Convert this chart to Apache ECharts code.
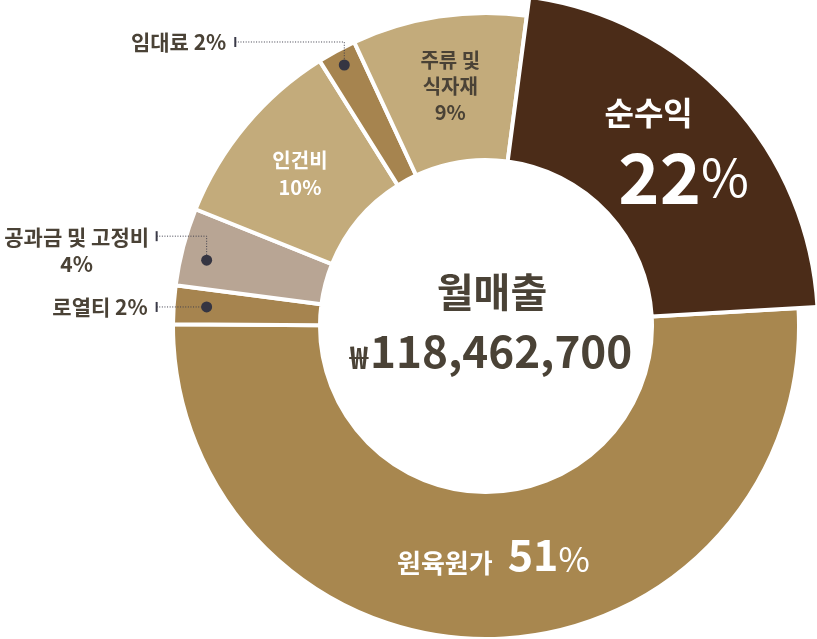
<!DOCTYPE html>
<html><head><meta charset="utf-8">
<script src="https://cdn.jsdelivr.net/npm/echarts@6/dist/echarts.min.js"></script>
<style>html,body{margin:0;padding:0;background:#fff}#c{width:817px;height:639px}</style>
</head><body><div id="c"></div>
<script>
// ---- data ----
const categories = ['순수익', '원육원가', '로열티', '공과금 및 고정비', '인건비', '임대료', '주류 및 식자재'];
const shares = [22, 51, 2, 4, 10, 2, 9];
const centerTitle = '월매출';
const totalSales = 118462700;

// ---- styles ----
const FONT = '"Noto Sans CJK KR", "Noto Sans", sans-serif';
const DARK = '#4a4236';
const colors = ['#4b2c18', '#a8874f', '#a6844f', '#b8a594', '#c3ab7b', '#a6844f', '#c3ab7b'];
const CX = 486, CY = 326, R0 = 166, R1 = 313, R2 = 332;
const START_ANGLE = 82.5;
const BORDER = 4;

const chart = echarts.init(document.getElementById('c'), null, {renderer: 'canvas'});
const total = shares.reduce((a, b) => a + b, 0);
const pctText = i => Math.round(shares[i] / total * 100);

function sliceAngle(i, frac) {
  let cum = 0;
  for (let k = 0; k < i; k++) cum += shares[k];
  return (90 - START_ANGLE) + (cum + shares[i] * frac) / total * 360;
}
function polar(deg, r) {
  const a = deg * Math.PI / 180;
  return [CX + r * Math.sin(a), CY - r * Math.cos(a)];
}

// inside label definitions (library positions them)
const insideLabels = {
  '원육원가': {
    formatter: p => '{n|' + p.name + '}{v|' + pctText(p.dataIndex) + '}{p|%}',
    offset: [1, -16],
    rich: {
      n: {fontSize: 26, fontWeight: 'bold', color: '#fff', fontFamily: FONT, padding: [0, 15, 0, 0], verticalAlign: 'bottom', lineHeight: 44},
      v: {fontSize: 43, fontWeight: 'bold', color: '#fff', fontFamily: FONT, verticalAlign: 'bottom', lineHeight: 48},
      p: {fontSize: 34, fontWeight: 'normal', color: '#fff', fontFamily: FONT, verticalAlign: 'bottom', lineHeight: 44}
    }
  },
  '인건비': {
    formatter: p => p.name + '\n' + pctText(p.dataIndex) + '%',
    offset: [0, 3],
    color: '#fff', fontSize: 20, fontWeight: 'bold', lineHeight: 27
  },
  '주류 및 식자재': {
    formatter: p => '주류 및\n식자재\n' + pctText(p.dataIndex) + '%',
    offset: [1, 0],
    color: DARK, fontSize: 20, fontWeight: 'bold', lineHeight: 26
  },
  '순수익': {
    formatter: p => '{n|' + p.name + '}\n{v|' + pctText(p.dataIndex) + '}{p|%}',
    offset: [-22, 3],
    rich: {
      n: {fontSize: 32, fontWeight: 'bold', color: '#fff', fontFamily: FONT, lineHeight: 40},
      v: {fontSize: 70, fontWeight: 'bold', color: '#fff', fontFamily: FONT, lineHeight: 90, padding: [0, 0, 0, 70]},
      p: {fontSize: 52, fontWeight: 'normal', color: '#fff', fontFamily: FONT, lineHeight: 90}
    }
  }
};

function makeLabel(name) {
  const d = insideLabels[name];
  if (!d) return {show: false};
  return Object.assign({show: true, position: 'inside', fontFamily: FONT}, d);
}

const ringData = categories.map((name, i) => {
  const isProfit = i === 0;
  return {
    name, value: shares[i],
    itemStyle: isProfit ? {color: 'transparent', borderWidth: 0} : {color: colors[i], borderColor: '#fff', borderWidth: BORDER},
    label: isProfit ? {show: false} : makeLabel(name)
  };
});
const profitData = categories.map((name, i) => {
  const isProfit = i === 0;
  return {
    name, value: shares[i],
    itemStyle: isProfit ? {color: colors[i], borderColor: '#fff', borderWidth: BORDER} : {color: 'transparent', borderWidth: 0},
    label: isProfit ? makeLabel(name) : {show: false}
  };
});

// callouts for thin slices
const callouts = [
  {name: '임대료', frac: 0.5, r: 297, rise: 23, run: 109, lines: n => n + ' ' + pctText(categories.indexOf(n)) + '%', align: 'right', gap: 9},
  {name: '공과금 및 고정비', frac: 0.4, r: 287, rise: 24, run: 50, lines: n => n + '\n' + pctText(categories.indexOf(n)) + '%', align: 'center', gap: 80},
  {name: '로열티', frac: 0.5, r: 280, rise: 0, run: 50, lines: n => n + ' ' + pctText(categories.indexOf(n)) + '%', align: 'right', gap: 9}
];
const graphics = [];
callouts.forEach(c => {
  const i = categories.indexOf(c.name);
  const [dx, dy] = polar(sliceAngle(i, c.frac), c.r);
  const ly = dy - c.rise;
  const tx = dx - c.run;
  graphics.push({type: 'polyline', z: 100, shape: {points: [[tx, ly], [dx, ly], [dx, dy]]},
    style: {stroke: '#3f3f4c', lineWidth: 1, lineDash: [1, 1.6], fill: null}});
  graphics.push({type: 'rect', z: 101, shape: {x: tx - 1, y: ly - 5, width: 2, height: 10}, style: {fill: '#3a3a48'}});
  graphics.push({type: 'circle', z: 101, shape: {cx: dx, cy: dy, r: 5.5}, style: {fill: '#353542'}});
  graphics.push({type: 'text', z: 101, x: tx - c.gap, y: ly,
    style: {text: c.lines(c.name), fill: DARK, font: 'bold 21px ' + FONT, align: c.align, textAlign: c.align,
      verticalAlign: 'top', textVerticalAlign: 'top', lineHeight: 27, padding: [-13, 0, 0, 0]}});
});
// center title
graphics.push({type: 'text', z: 101, x: CX + 6, y: 292,
  style: {text: centerTitle, fill: DARK, font: 'bold 40px ' + FONT, align: 'center', textAlign: 'center', verticalAlign: 'middle', textVerticalAlign: 'middle'}});
graphics.push({type: 'text', z: 101, x: CX + 5, y: 347,
  style: {text: '{w|₩}{v|' + totalSales.toLocaleString('en-US') + '}', align: 'center', textAlign: 'center', verticalAlign: 'middle', textVerticalAlign: 'middle',
    rich: {
      w: {fontSize: 31, fontWeight: 'bold', fill: DARK, color: DARK, fontFamily: FONT, verticalAlign: 'bottom', lineHeight: 46, padding: [0, 2, 0, 0]},
      v: {fontSize: 44, fontWeight: 'bold', fill: DARK, color: DARK, fontFamily: FONT, verticalAlign: 'bottom', lineHeight: 52}
    }}});

chart.setOption({
  animation: false,
  backgroundColor: '#fff',
  series: [
    {type: 'pie', center: [CX, CY], radius: [R0, R1], startAngle: START_ANGLE, clockwise: true,
      avoidLabelOverlap: false, silent: true, labelLine: {show: false}, data: ringData},
    {type: 'pie', center: [CX, CY], radius: [R0, R2], startAngle: START_ANGLE, clockwise: true,
      avoidLabelOverlap: false, silent: true, labelLine: {show: false}, data: profitData}
  ],
  graphic: graphics
});
</script></body></html>
